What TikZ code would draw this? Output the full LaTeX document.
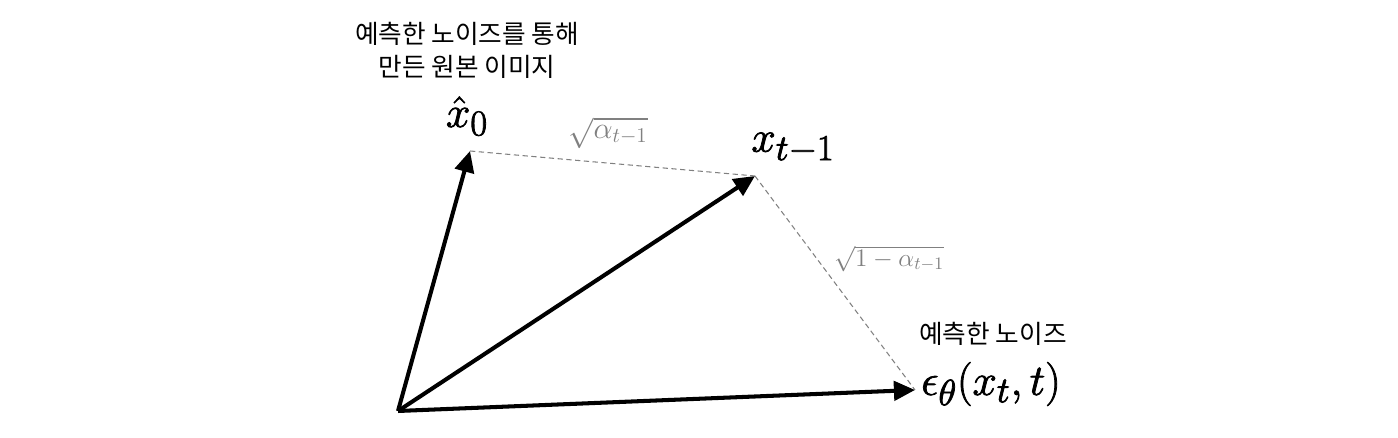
\documentclass[tikz,border=0pt]{standalone}
\usepackage{amsmath,amssymb}
\usepackage{fontspec}
\newfontfamily\kr{Noto Sans CJK KR}
\usetikzlibrary{arrows.meta,positioning}
% trait un peu plus gras pour les grandes formules
\newcommand{\epais}[1]{\special{pdf:literal direct 2 Tr 0.45 w}#1\special{pdf:literal direct 0 Tr 1 w}}

\begin{document}
\begin{tikzpicture}[
    vec/.style={line width=2.3pt, -{Triangle[length=12pt,width=11pt]}},
    proj/.style={gray, densely dashed, line width=0.6pt},
    grand/.style={font=\fontsize{27.5}{31}\selectfont, inner sep=0pt},
    coef/.style={gray, inner sep=1pt},
    txt/.style={font=\kr\fontsize{14.6}{18.8}\selectfont, align=center, inner sep=1pt}]
            \useasboundingbox (0,0) rectangle (27.96,8.76);
            % Les points
            \coordinate (O) at (7.96,0.54);
            \coordinate (X0) at (9.40,5.74);
            \coordinate (Xt) at (15.10,5.24);
            \coordinate (E) at (18.30,0.96);
            % Les vecteurs
            \draw[vec] (O) -- (X0);
            \draw[vec] (O) -- (Xt);
            \draw[vec] (O) -- (E);
            % Les pointillés
            \draw[proj] (X0) -- (Xt);
            \draw[proj] (Xt) -- (E);
            % Les étiquettes
            \node[grand] (lx0) at (9.34,6.44) {\epais{$\hat{x}_0$}};
            \node[txt] (tx0) at (9.34,7.76) {예측한 노이즈를 통해\\만든 원본 이미지};
            \node[grand] (lxt) at (15.86,5.80) {\epais{$x_{t-1}$}};
            \node[coef, font=\fontsize{17}{19}\selectfont] (ca) at (12.16,6.10) {$\sqrt{\alpha_{t-1}}$};
            \node[coef, font=\fontsize{14.3}{17}\selectfont] (cb) at (17.78,3.58) {$\sqrt{1-\alpha_{t-1}}$};
            \node[txt] (te) at (19.86,2.08) {예측한 노이즈};
            \node[grand] (le) at (19.82,1.08) {\epais{$\epsilon_\theta(x_t,t)$}};
        \end{tikzpicture}
\end{document}
